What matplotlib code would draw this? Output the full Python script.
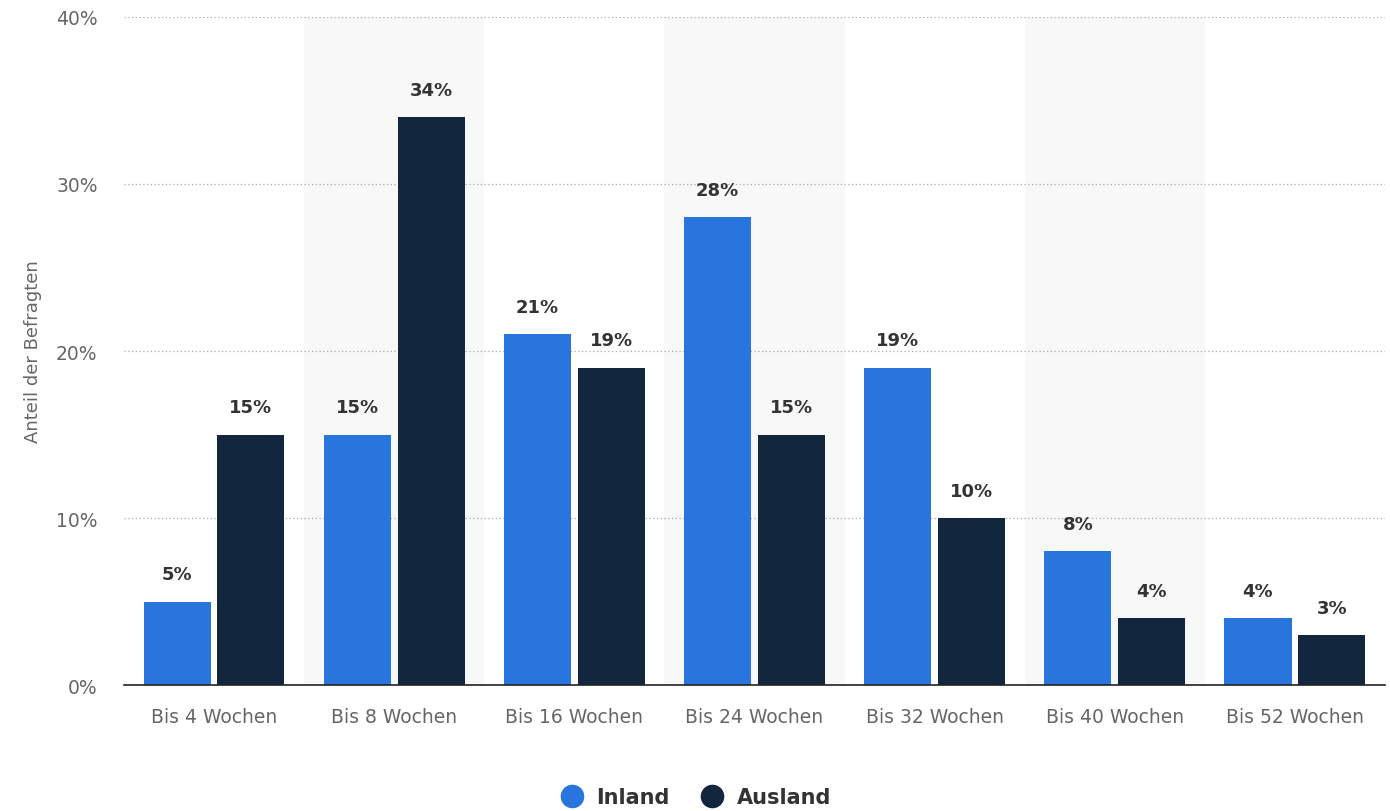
import matplotlib
matplotlib.use("Agg")
import matplotlib.pyplot as plt
from matplotlib.lines import Line2D
import numpy as np

categories = ["Bis 4 Wochen", "Bis 8 Wochen", "Bis 16 Wochen", "Bis 24 Wochen",
              "Bis 32 Wochen", "Bis 40 Wochen", "Bis 52 Wochen"]
inland = [5, 15, 21, 28, 19, 8, 4]
ausland = [15, 34, 19, 15, 10, 4, 3]
yticks = [0, 10, 20, 30, 40]
series_names = ["Inland", "Ausland"]
colors = ["#2876dd", "#12263d"]

plt.rcParams['font.family'] = ['DejaVu Sans']
fig = plt.figure(figsize=(13.9, 8.12), dpi=100)
ax = fig.add_axes([0.0892, 0.155, 0.9072, 0.823])

x = np.arange(len(categories))
w = 0.372
off = 0.205
for i in range(len(categories)):
    if i % 2 == 1:
        ax.axvspan(i - 0.5, i + 0.5, color="#f8f8f8", zorder=0, lw=0)

b1 = ax.bar(x - off, inland, w, color=colors[0], zorder=3)
b2 = ax.bar(x + off, ausland, w, color=colors[1], zorder=3)
for bars, vals in ((b1, inland), (b2, ausland)):
    for r, v in zip(bars, vals):
        ax.text(r.get_x() + r.get_width() / 2, v + 1.1, f"{v}%", ha="center", va="bottom",
                fontsize=13, fontweight="bold", color="#333333", zorder=4)

ax.set_xlim(-0.5, len(categories) - 0.5)
ax.set_ylim(0, 40)
ax.set_yticks(yticks)
ax.set_yticklabels([f"{t}%" for t in yticks])
ax.set_xticks(x)
ax.set_xticklabels(categories)
ax.tick_params(axis="both", length=0, labelsize=13.5, colors="#666666")
ax.tick_params(axis="x", pad=16)
ax.tick_params(axis="y", pad=19)
for t in ax.get_yticklabels():
    t.set_horizontalalignment("right")
ax.grid(axis="y", linestyle=(0, (1, 2)), color="#aaaaaa", lw=0.9, zorder=1)
for s in ["top", "right", "left"]:
    ax.spines[s].set_visible(False)
ax.spines["bottom"].set_color("#222222")
ax.spines["bottom"].set_linewidth(1.2)
ax.spines["bottom"].set_zorder(5)
ax.set_ylabel("Anteil der Befragten", fontsize=13, color="#666666", labelpad=10)

handles = [Line2D([0], [0], marker="o", color="w", markerfacecolor=c, markersize=18, lw=0)
           for c in colors]
fig.legend(handles, series_names, loc="center", bbox_to_anchor=(0.497, 0.017), ncol=2,
           frameon=False, prop={"weight": "bold", "size": 15}, handletextpad=0.2,
           columnspacing=1.0, labelcolor="#333333")

fig.savefig("out.png", dpi=100)
